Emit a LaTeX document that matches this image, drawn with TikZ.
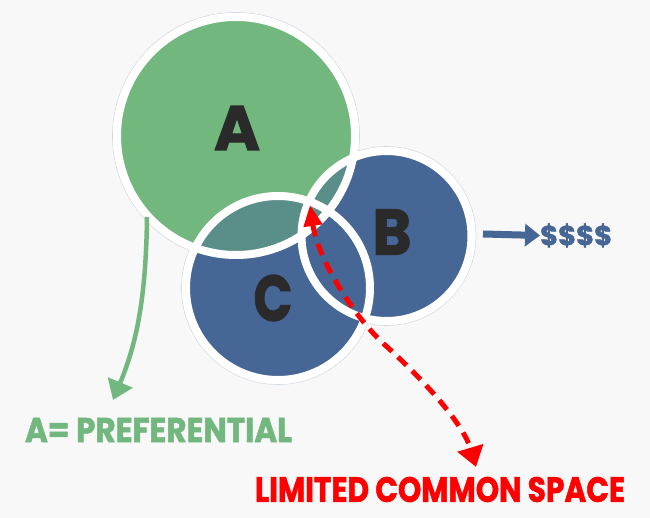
\documentclass[tikz,border=0pt]{standalone}
\usepackage{fontspec}
\usepackage{graphicx}
\newfontfamily\pop{Poppins Bold}[FakeBold=1.6]
\usetikzlibrary{arrows.meta}
\definecolor{bgc}{HTML}{F8F8F8}
\definecolor{agreen}{HTML}{72B77E}
\definecolor{bblue}{HTML}{466696}
\definecolor{tealc}{HTML}{5A8E88}
\definecolor{darkc}{HTML}{2A2A2A}
\definecolor{redc}{HTML}{FF0000}
\definecolor{outlc}{HTML}{D3D9E3}
\tikzset{
  outl/.style={draw=outlc, line width=0.6pt},
  ring/.style={draw=white, line width=8pt},
  letter/.style={font=\pop, text=darkc, inner sep=0pt},
  lbl/.style={font=\pop, inner sep=0pt},
  greenarrow/.style={draw=agreen, line width=4.5pt, -{Triangle[width=26pt,length=19pt]}},
  redarrow/.style={draw=redc, line width=5pt, dash pattern=on 12pt off 8pt,
     {Triangle[width=18pt,length=21pt]}-{Triangle[width=26pt,length=20pt]}},
  bluearrow/.style={draw=bblue, line width=7pt, -{Triangle[width=22pt,length=15pt]}}
}
\begin{document}
\begin{tikzpicture}[x=1pt,y=-1pt]
\fill[bgc] (0,0) rectangle (650,518);
\useasboundingbox (0,0) rectangle (650,518);
\coordinate (cA) at (236,136);
\coordinate (cB) at (386.5,236);
\coordinate (cC) at (278,288);
% outer thin outlines
\draw[outl] (cA) circle (123.5pt);
\draw[outl] (cB) circle (89.5pt);
\draw[outl] (cC) circle (96.5pt);
% fills
\fill[agreen] (cA) circle (119pt);
\fill[bblue] (cB) circle (85pt);
\fill[bblue] (cC) circle (92pt);
\begin{scope}
  \clip (cA) circle (119pt);
  \fill[tealc] (cB) circle (85pt);
  \fill[tealc] (cC) circle (92pt);
\end{scope}
% white rings
\draw[ring] (cA) circle (119pt);
\draw[ring] (cC) circle (92pt);
\draw[ring] (cB) circle (85pt);
% letters
\node[letter] (la) at (237,128) {\resizebox{46pt}{44pt}{A}};
\node[letter] (lb) at (392,232) {\resizebox{39pt}{45pt}{B}};
\node[letter] (lc) at (273,298) {\resizebox{39pt}{46pt}{C}};
% labels
\node[lbl, text=agreen] (pref) at (158.5,430) {\resizebox{267pt}{24pt}{A= PREFERENTIAL}};
\node[lbl, text=redc] (lcs) at (440,489.5) {\resizebox{370pt}{25pt}{LIMITED COMMON SPACE}};
\node[lbl, text=bblue, anchor=west] (dol) at (540,235.5) {\resizebox{72pt}{!}{\$\$\$\$}};
% connectors
\coordinate (ga1) at (147,217);
\coordinate (ga2) at (113,400);
\draw[greenarrow] (ga1) .. controls (146,300) and (136,345) .. (ga2);
\coordinate (r2) at (310,205);
\coordinate (rm) at (385,345);
\coordinate (r1) at (476,467);
\draw[redarrow] (r2) .. controls (318,260) and (355,318) .. (rm) .. controls (415,372) and (462,420) .. (r1);
\coordinate (b1) at (483,234);
\draw[bluearrow] (b1) -- (dol.west);
\end{tikzpicture}
\end{document}
